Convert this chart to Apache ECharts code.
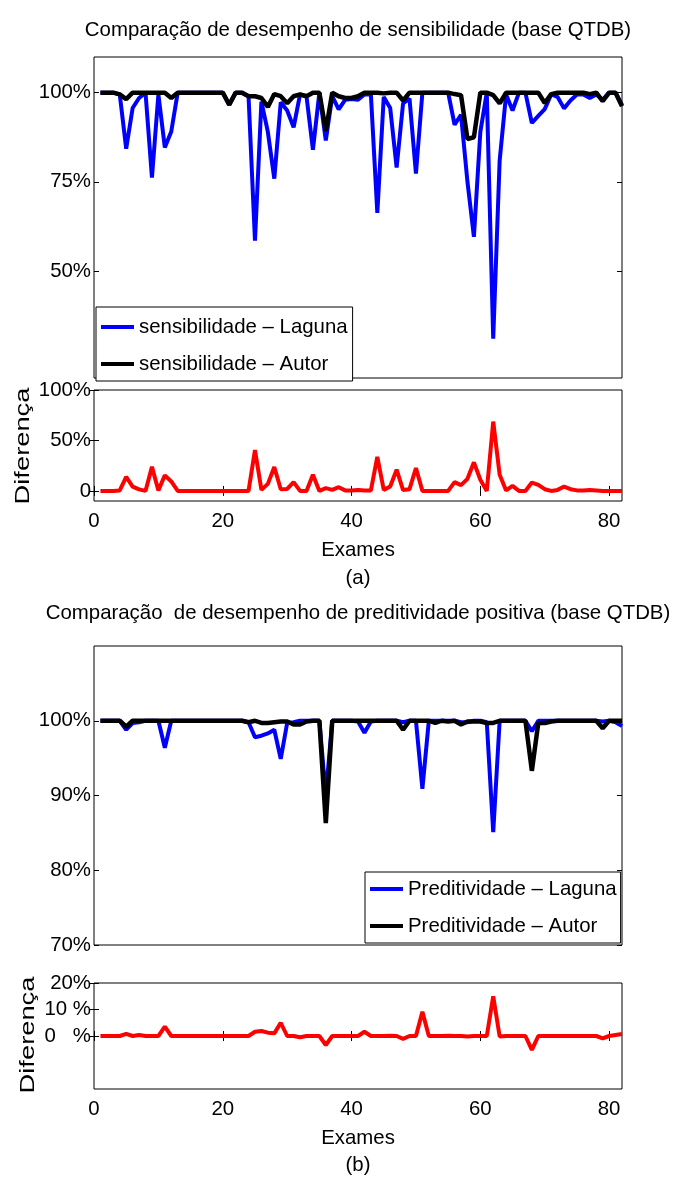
<!DOCTYPE html>
<html><head><meta charset="utf-8">
<script src="https://cdn.jsdelivr.net/npm/echarts@6/dist/echarts.min.js"></script>
<style>html,body{margin:0;padding:0;background:#fff}#c{width:676px;height:1190px}</style>
</head><body><div id="c"></div>
<script>
const exames = [1,2,3,4,5,6,7,8,9,10,11,12,13,14,15,16,17,18,19,20,21,22,23,24,25,26,27,28,29,30,31,32,33,34,35,36,37,38,39,40,41,42,43,44,45,46,47,48,49,50,51,52,53,54,55,56,57,58,59,60,61,62,63,64,65,66,67,68,69,70,71,72,73,74,75,76,77,78,79,80,81,82];

const sensLaguna = [100,100,100,99.5,84.3,95.7,98.5,100,76.2,99.5, 84.6,89.1,100,100,100,100,100,100,100,100, 96.6,100,100,99,58.5,97.5,89,75.9,97.3,95, 90.3,99.5,99,84,100,86.6,99,95.3,98,98.2, 98,99.5,99.5,66.3,98.8,95.7,79,97,98.3,77.3, 100,100,100,100,100,91,93.8,75,59.6,89, 100,31,81,99.5,95,100,100,91.5,93.5,95.4, 99.5,98.8,95.6,97.8,99.5,99.5,98.5,99.5,98,100, 100,96.5];
const sensAutor = [100,100,100,99.5,98.2,100,100,100,100,100, 100,98.5,100,100,100,100,100,100,100,100, 96.6,100,100,99,99,98.5,96,99.6,99,97, 99,99.5,99,100,100,89.3,100,99,98.5,98.5, 99,100,100,100,99.8,100,100,97.8,100,100, 100,100,100,100,100,99.6,99.3,87,87.5,100, 100,99.3,97,100,100,100,100,100,100,97.1, 99.6,100,100,100,100,100,99.6,100,97.6,100, 100,96.2];
const sensDiff = [0,0,0,0.5,13.9,4.3,1.5,0,23.8,0.5, 15.4,9.4,0,0,0,0,0,0,0,0, 0,0,0,0,40.5,1,7,23.7,1.7,2, 8.7,0,0,16,0,2.7,1,3.7,0.5,0.3, 1,0.5,0.5,33.7,1,4.3,21,0.8,1.7,22.7, 0,0,0,0,0,8.7,5.7,12,28.3,11, 0,68.7,16,0.5,5,0,0,8.3,6,1.7, 0,1,4.3,1.7,0.5,0.5,1,0.5,0,0, 0,0];

const predLaguna = [100,100,100,100,98.8,99.7,99.8,100,100,100, 96.4,100,100,100,100,100,100,100,100,100, 100,100,100,99.8,97.8,98,98.3,98.8,94.9,99.7, 99.8,100,100,100,100,90,100,100,100,100, 99.9,98.4,99.9,100,100,100,100,99.8,100,100, 90.9,100,100,100,100,100,99.8,99.8,100,100, 99.8,85.1,100,100,100,100,100,98.6,100,100, 100,100,100,100,100,100,100,100,99.9,100, 99.8,99.3];
const predAutor = [100,100,100,100,99.2,100,100,100,100,100, 100,100,100,100,100,100,100,100,100,100, 100,100,100,99.8,100,99.7,99.7,99.8,99.9,99.9, 99.5,99.5,99.9,100,100,86.3,100,100,100,100, 100,100,100,100,100,100,100,98.8,100,100, 100,100,99.7,100,99.9,100,99.5,99.9,99.9,99.9, 99.7,99.7,100,100,100,100,100,93.3,99.7,99.7, 99.9,100,100,100,100,100,100,100,99,100, 100,100];
const predDiff = [0,0,0,0,0.8,0,0.4,0,0,0, 3.5,0,0,0,0,0,0,0,0,0, 0,0,0,0,1.6,1.9,1.25,1,5,0, 0,-0.5,0,0,0,-3.4,0,0,0,0, 0,1.6,0,0,0,0.1,0,-1.1,0,0, 9.1,0,0,0,0.1,0,0,-0.2,0,0, 0,15,-0.2,0,0,0,0,-5.25,0,0, 0,0,0,0,0,0,0,0,-0.9,0, 0.4,0.75];

const xTicks = [0,20,40,60,80];
const sensTicks = [50,75,100];
const sensDiffTicks = [0,50,100];
const predTicks = [70,80,90,100];
const predDiffTicks = [0,10,20];

const titleA = 'Comparação de desempenho de sensibilidade (base QTDB)';
const titleB = 'Comparação  de desempenho de preditividade positiva (base QTDB)';
const names = ['sensibilidade – Laguna','sensibilidade – Autor','Preditividade – Laguna','Preditividade – Autor'];

const FF = 'Liberation Sans, Arial, sans-serif';
const pair = arr => arr.map((v,i)=>[exames[i], v]);

const grids = [
  {left:94, top:57, width:528, height:321},
  {left:94, top:390, width:528, height:111},
  {left:94, top:646, width:528, height:299},
  {left:94, top:983, width:528, height:106}
].map(g => Object.assign({show:true, borderColor:'#000', borderWidth:1, backgroundColor:'transparent'}, g));

const tickStyle = {show:true, inside:true, length:5, lineStyle:{color:'#000', width:1}};
function xAx(gi, withTicks, pos, labels){
  return {gridIndex:gi, type:'value', min:0, max:82, position:pos,
    axisLine:{show:false}, splitLine:{show:false},
    axisTick: withTicks ? Object.assign({customValues:xTicks}, tickStyle) : {show:false},
    axisLabel: labels ? {show:true, customValues:xTicks, margin:10, fontSize:20.4, fontFamily:FF, color:'#000'} : {show:false}};
}
function yAx(gi, min, max, ticks, pos, fmt){
  return {gridIndex:gi, type:'value', min:min, max:max, position:pos,
    axisLine:{show:false}, splitLine:{show:false},
    axisTick: Object.assign({customValues:ticks}, tickStyle),
    axisLabel: fmt ? {show:true, customValues:ticks, margin:3, fontSize:20.4, fontFamily:FF, color:'#000', formatter:fmt} : {show:false}};
}
const xAxis = [
  xAx(0,false,'bottom',false), xAx(1,true,'bottom',true), xAx(2,false,'bottom',false), xAx(3,true,'bottom',true),
  xAx(1,true,'top',false), xAx(3,true,'top',false)
];
const yAxis = [
  yAx(0,20,110,sensTicks,'left', v=>v+'%'),
  yAx(1,-10,100,sensDiffTicks,'left', v=> v===0?'0':v+'%'),
  yAx(2,70,110,predTicks,'left', v=>v+'%'),
  yAx(3,-20,20,predDiffTicks,'left', v=> v===0?'0   %':(v===10?'10 %':v+'%')),
  yAx(0,20,110,sensTicks,'right', null),
  yAx(1,-10,100,sensDiffTicks,'right', null),
  yAx(2,70,110,predTicks,'right', null),
  yAx(3,-20,20,predDiffTicks,'right', null)
];
function ln(name, data, xi, yi, color, w){
  return {name:name, type:'line', xAxisIndex:xi, yAxisIndex:yi, data:pair(data), symbol:'none',
    lineStyle:{color:color, width:w}, itemStyle:{color:color}, clip:true, animation:false};
}
const series = [
  ln(names[0], sensLaguna, 0, 0, '#0000ff', 4),
  ln(names[1], sensAutor, 0, 0, '#000000', 4.5),
  ln('diffA', sensDiff, 1, 1, '#ff0000', 4),
  ln(names[2], predLaguna, 2, 2, '#0000ff', 4),
  ln(names[3], predAutor, 2, 2, '#000000', 4.5),
  ln('diffB', predDiff, 3, 3, '#ff0000', 4)
];
const legBase = {orient:'vertical', icon:'rect', itemGap:17, itemWidth:33, itemHeight:4, borderColor:'#000', borderWidth:1,
  backgroundColor:'#fff', textStyle:{fontSize:20.4, fontFamily:FF, color:'#000', lineHeight:20}, selectedMode:false};
const legend = [
  Object.assign({}, legBase, {data:[names[0],names[1]], left:96, top:307, padding:[10,5,7,5]}),
  Object.assign({}, legBase, {data:[names[2],names[3]], left:365, top:872, padding:[7,4,7,5]})
];
function txt(s, x, y, extra, fs){
  return Object.assign({type:'text', x:x, y:y, silent:true,
    style:{text:s, fontSize:fs||20.4, fontFamily:FF, fill:'#000', textAlign:'center', textVerticalAlign:'middle'}}, extra||{});
}
const graphic = [
  txt(titleA, 358, 30), txt('Exames', 358, 550), txt('(a)', 358, 578),
  txt(titleB, 358, 613), txt('Exames', 358, 1138), txt('(b)', 358, 1165),
  txt('Diferença', 23, 446, {rotation:Math.PI/2, scaleX:1.3}, 21),
  txt('Diferença', 28, 1035, {rotation:Math.PI/2, scaleX:1.3}, 21)
];
const chart = echarts.init(document.getElementById('c'), null, {renderer:'canvas'});
chart.setOption({animation:false, backgroundColor:'#fff', grid:grids, xAxis:xAxis, yAxis:yAxis, series:series, legend:legend, graphic:graphic});
</script></body></html>
